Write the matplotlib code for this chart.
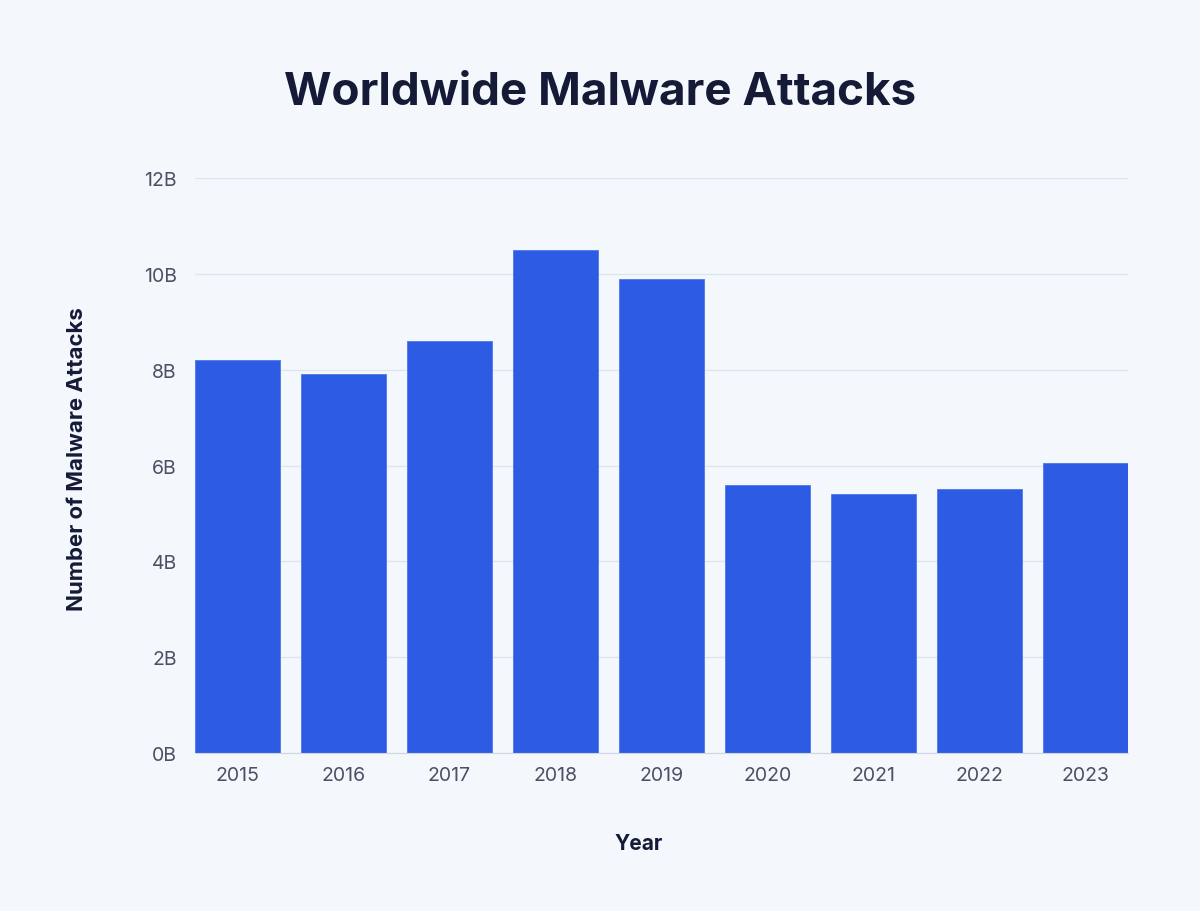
import matplotlib.pyplot as plt

years = ["2015", "2016", "2017", "2018", "2019", "2020", "2021", "2022", "2023"]
attacks_billions = [8.2, 7.9, 8.6, 10.5, 9.9, 5.6, 5.4, 5.5, 6.05]
y_ticks = [0, 2, 4, 6, 8, 10, 12]
y_tick_labels = ["0B", "2B", "4B", "6B", "8B", "10B", "12B"]

BG = "#f4f8fd"
BAR = "#2d5be3"
NAVY = "#151a36"
TICK = "#4b5063"

plt.rcParams['font.family'] = ['Inter', 'DejaVu Sans']

fig = plt.figure(figsize=(12, 9.12), dpi=100, facecolor=BG)
ax = fig.add_axes([0.1625, 0.1732, 0.7775, 0.6305], facecolor=BG)

x = range(len(years))
ax.bar(x, attacks_billions, width=0.8, color=BAR, edgecolor="#4d77ea", linewidth=0.6, zorder=3)

ax.set_xlim(-0.4, len(years) - 0.6)
ax.set_ylim(0, 12)
ax.set_yticks(y_ticks)
ax.set_yticklabels(y_tick_labels)
ax.set_xticks(list(x))
ax.set_xticklabels(years)

ax.grid(axis="y", color="#dfe5ec", linewidth=1, zorder=0)
for side in ["top", "right", "left"]:
    ax.spines[side].set_visible(False)
ax.spines["bottom"].set_color("#cfd5de")
ax.spines["bottom"].set_zorder(4)
ax.tick_params(axis="both", length=0, labelsize=14, labelcolor=TICK)
ax.tick_params(axis="y", pad=13)
ax.tick_params(axis="x", pad=9)

fig.text(0.5, 0.898, "Worldwide Malware Attacks", ha="center", va="center",
         fontsize=33, fontweight="bold", color=NAVY)
fig.text(0.532, 0.075, "Year", ha="center", va="center",
         fontsize=15, fontweight="bold", color=NAVY)
fig.text(0.064, 0.497, "Number of Malware Attacks", ha="center", va="center",
         rotation=90, fontsize=16, fontweight="bold", color=NAVY)

fig.savefig("out.png", dpi=100, facecolor=BG)
